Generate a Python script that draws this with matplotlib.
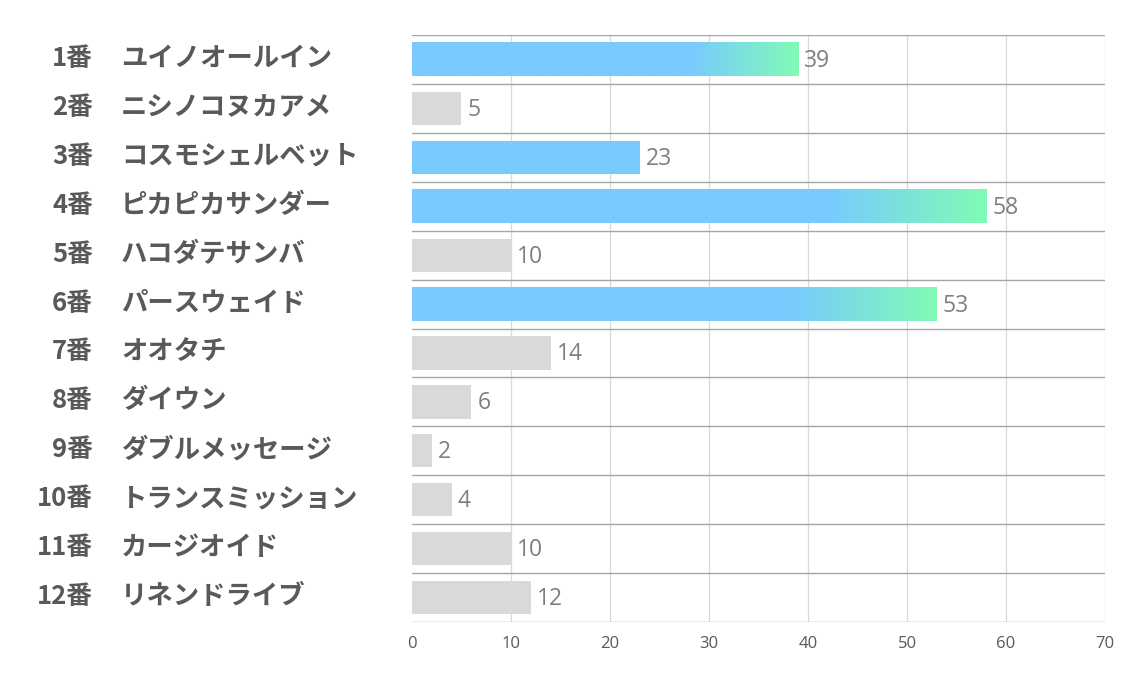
import numpy as np
import matplotlib.pyplot as plt
from matplotlib.colors import to_rgb
from matplotlib.transforms import blended_transform_factory

# data
numbers = ["1番", "2番", "3番", "4番", "5番", "6番", "7番", "8番", "9番", "10番", "11番", "12番"]
names = ["ユイノオールイン", "ニシノコヌカアメ", "コスモシェルベット", "ピカピカサンダー", "ハコダテサンバ",
         "パースウェイド", "オオタチ", "ダイウン", "ダブルメッセージ", "トランスミッション",
         "カージオイド", "リネンドライブ"]
values = [39, 5, 23, 58, 10, 53, 14, 6, 2, 4, 10, 12]
highlight = [True, False, True, True, False, True, False, False, False, False, False, False]
gradient = [True, False, False, True, False, True, False, False, False, False, False, False]
xticks = [0, 10, 20, 30, 40, 50, 60, 70]

blue = "#79CAFF"
green = "#80FBB5"
gray = "#D9D9D9"
jp_font = ["Noto Sans CJK JP", "DejaVu Sans"]

fig = plt.figure(figsize=(11.34, 6.8), dpi=100)
ax = fig.add_axes([0.3633, 0.0853, 0.6112, 0.8632])

n = len(values)
ypos = np.arange(n)
bar_h = 0.68
colors = [blue if h else gray for h in highlight]
bars = ax.barh(ypos, values, height=bar_h, color=colors, zorder=2)

# gradient on the ends of the top bars
c1 = np.array(to_rgb(blue))
c2 = np.array(to_rgb(green))
for bar, v, g in zip(bars, values, gradient):
    if not g:
        continue
    t = np.linspace(0, 1, 400)
    f = np.clip((t - 0.72) / 0.28, 0, 1)
    img = (c1[None, :] * (1 - f[:, None]) + c2[None, :] * f[:, None])[None, :, :]
    y0 = bar.get_y()
    ax.imshow(img, extent=[0, v, y0 + bar_h, y0], aspect="auto", zorder=3,
              interpolation="bilinear")

for y, v in zip(ypos, values):
    ax.text(v + 0.6, y + 0.03, str(v), va="center", ha="left", fontsize=16.5,
            color="#7F7F7F", family=["Open Sans", "DejaVu Sans"], zorder=4)

ax.set_xlim(0, 70)
ax.set_ylim(n - 0.5, -0.5)
ax.set_xticks(xticks)
ax.set_xticklabels([str(x) for x in xticks], fontsize=12, color="#595959",
                   family=["Open Sans", "DejaVu Sans"])
ax.tick_params(axis="x", length=0, pad=10)
ax.set_yticks([])

# grid: vertical light, horizontal darker at row borders
for x in xticks[1:]:
    ax.axvline(x, color="#D9D9D9", lw=0.9, zorder=1)
for b in np.arange(n + 1) - 0.5:
    ax.axhline(b, color="#A6A6A6", lw=1, zorder=1)
for s in ax.spines.values():
    s.set_visible(False)

# row labels
tr = blended_transform_factory(fig.transFigure, ax.transData)
for y, num, name in zip(ypos, numbers, names):
    ax.text(93 / 1134, y - 0.02, num, transform=tr, ha="right", va="center",
            fontsize=18.5, fontweight="bold", color="#595959", family=jp_font)
    ax.text(121 / 1134, y - 0.02, name, transform=tr, ha="left", va="center",
            fontsize=19, fontweight="bold", color="#595959", family=jp_font)

fig.savefig("out.png", dpi=100)
